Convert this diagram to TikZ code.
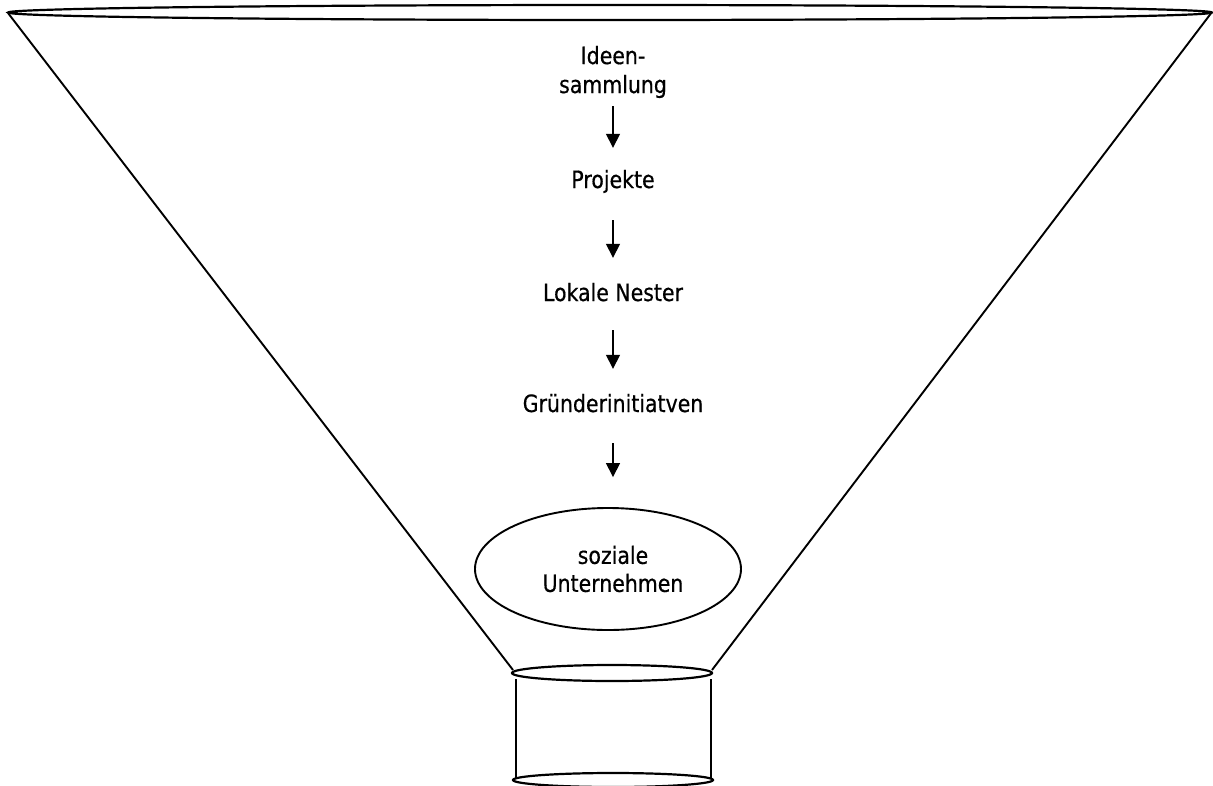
\documentclass[tikz,border=0pt]{standalone}
\usepackage{fontspec}
\setmainfont{DejaVu Sans}[FakeStretch=0.86,FakeBold=0.5]
\usetikzlibrary{arrows.meta,shapes.geometric}
\begin{document}
\begin{tikzpicture}[x=1pt,y=-1pt,
  lbl/.style={inner sep=0pt,anchor=base,text height=17pt,text depth=5pt,font=\fontsize{23.8}{28.5}\selectfont},
  arr/.style={line width=1.5pt,-{Triangle[length=14pt,width=14pt]}},
  rim/.style={line width=2.2pt},
  wall/.style={line width=1.9pt}]
\useasboundingbox (0,0) rectangle (1213,785);
% funnel
\coordinate (tl) at (8,13);
\coordinate (tr) at (1212,12);
\coordinate (bl) at (513,670);
\coordinate (br) at (712,670);
\draw[rim] (610,12.5) ellipse [x radius=602, y radius=7.5];
\draw[wall] (tl) -- (bl);
\draw[wall] (tr) -- (br);
% cylinder
\draw[rim] (612,673) ellipse [x radius=100, y radius=8];
\draw[wall] (516,679) -- (516,779);
\draw[wall] (711,679) -- (711,779);
\draw[rim] (613,780) ellipse [x radius=100, y radius=7];
% texts
\node[inner sep=0pt,align=center,font=\fontsize{23.8}{29}\selectfont] (ideen) at (613,72) {Ideen-\\sammlung};
\node[lbl] (proj) at (613,188) {Projekte};
\node[lbl] (lokal) at (613,301) {Lokale Nester};
\node[lbl] (gruend) at (613,412) {Gründerinitiatven};
\node[draw,ellipse,line width=1.9pt,minimum width=266pt,minimum height=122pt,inner sep=0pt,
      align=center,font=\fontsize{23.8}{28}\selectfont] (sozial) at (608,569) {\hspace*{10pt}soziale\\\hspace*{10pt}Unternehmen};
% arrows
\draw[arr,shorten <=8pt,shorten >=23pt] (ideen.south) -- (proj.north);
\draw[arr,shorten <=27pt,shorten >=26pt] (proj.south) -- (lokal.north);
\draw[arr,shorten <=24pt,shorten >=26pt] (lokal.south) -- (gruend.north);
\draw[arr,shorten <=26pt,shorten >=30pt] (gruend.south) -- (sozial.north -| gruend.south);
\end{tikzpicture}
\end{document}
